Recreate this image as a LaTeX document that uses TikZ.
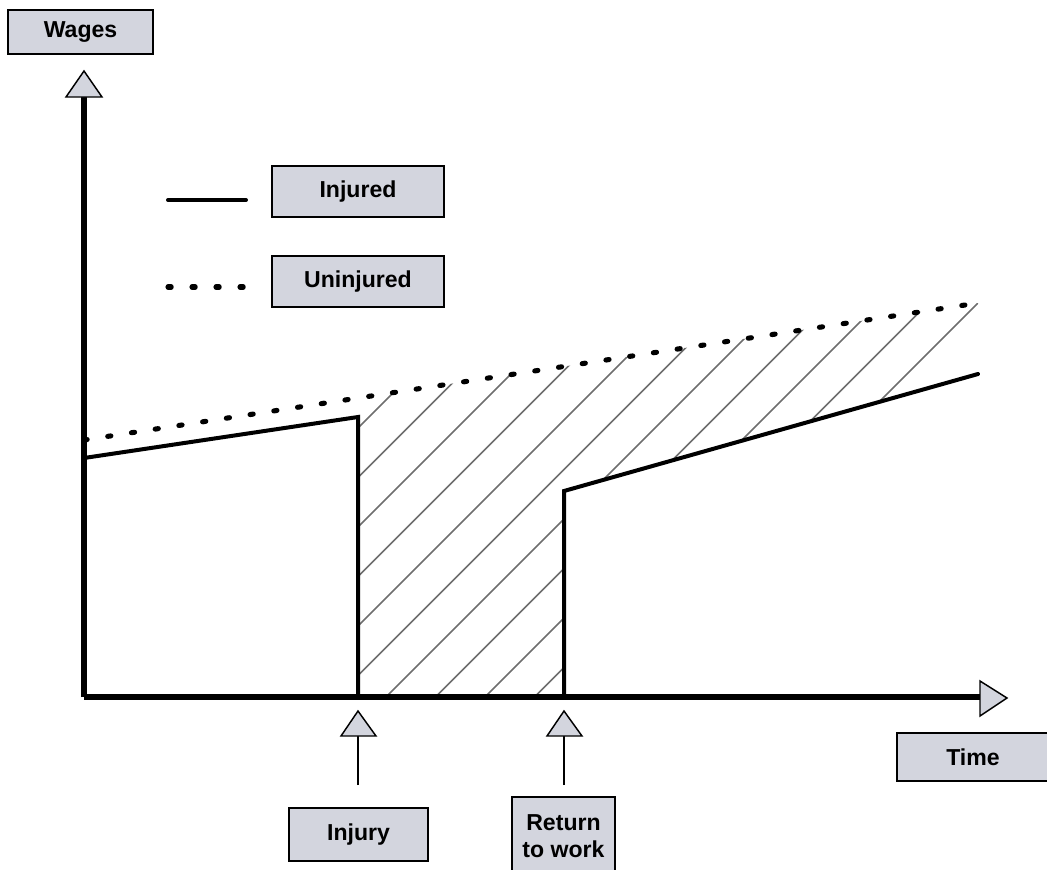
\documentclass[tikz,border=0pt]{standalone}
\usepackage{fontspec}
\setmainfont{Liberation Sans}
\definecolor{boxgray}{RGB}{211,213,222}
\definecolor{hatchgray}{RGB}{110,110,110}

\begin{document}
\begin{tikzpicture}[x=0.75pt,y=0.75pt,yscale=-1,xscale=1,
    labelbox/.style={draw=black, line width=1.5pt, fill=boxgray, inner sep=0pt, align=center,
        font=\fontsize{17.3}{20}\selectfont\bfseries},
    wageline/.style={line width=3pt, line cap=round, line join=miter},
    dotline/.style={line width=3.8pt, line cap=round, dash pattern=on 2.4pt off 15.6pt},
    axisline/.style={line width=4pt},
    hatchline/.style={draw=hatchgray, line width=1.1pt},
    tip/.style={draw=black, fill=boxgray, line width=1.1pt, line join=miter},
    pointer/.style={line width=1.1pt}]
    \useasboundingbox (0,0) rectangle (1047,869);

    %Points [axes]
    \coordinate (O) at (84,697);
    \coordinate (ybase) at (84,97);
    \coordinate (ytip) at (84,71);
    \coordinate (xbase) at (980,697);
    \coordinate (xtip) at (1007,698);
    %Points [injured wages]
    \coordinate (i0) at (84,458);
    \coordinate (i1) at (358,417);
    \coordinate (i2) at (358,697);
    \coordinate (i3) at (564,697);
    \coordinate (i4) at (564,491);
    \coordinate (i5) at (978,374);
    %Points [uninjured wages]
    \coordinate (u0) at (84,440);
    \coordinate (u1) at (358,398);
    \coordinate (u2) at (978,303);

    %Hatched gap between the two wage paths
    \begin{scope}
        \clip (u1) -- (u2) -- (i5) -- (i4) -- (i3) -- (i2) -- cycle;
        \foreach \c in {0,...,10}
            \draw[hatchline] ({786+49.5*\c-720},720) -- ({786+49.5*\c-280},280);
    \end{scope}

    %Straight Lines [uninjured]
    \draw[dotline] (u0) -- (u2);
    %Straight Lines [injured]
    \draw[wageline] (i0) -- (i1) -- (i2);
    \draw[wageline] (i3) -- (i4) -- (i5);

    %Straight Lines [axes]
    \draw[axisline] (O) -- (ybase);
    \draw[axisline] (O) -- (xbase);
    %Shape: Triangle
    \draw[tip] (ytip) -- (102,97) -- (66,97) -- cycle;
    %Shape: Triangle
    \draw[tip] (xtip) -- (980,716) -- (980,681) -- cycle;

    %Legend lines
    \coordinate (lgA) at (168,200);
    \coordinate (lgB) at (246,200);
    \coordinate (lgC) at (168,287);
    \coordinate (lgD) at (246,287);
    \draw[wageline] (lgA) -- (lgB);
    \draw[dotline] (lgC) -- (lgD);

    % Text Node
    \node[labelbox, minimum width=108.75pt, minimum height=33pt] (wages) at (80.5,32) {Wages};
    % Text Node
    \node[labelbox, minimum width=129pt, minimum height=38.25pt] (injured) at (358,191.5) {Injured};
    % Text Node
    \node[labelbox, minimum width=129pt, minimum height=38.25pt] (uninjured) at (358,281.5) {Uninjured};
    % Text Node
    \node[labelbox, minimum width=114pt, minimum height=36pt] (time) at (973,757) {Time};
    % Text Node
    \node[labelbox, minimum width=104.25pt, minimum height=39.75pt] (injury) at (358.5,834.5) {Injury};
    % Text Node
    \node[labelbox, minimum width=77.25pt, minimum height=58.5pt] (return) at (563.5,836) {Return\\to work};

    %Pointers [injury, return to work]
    \coordinate (injtip) at (358,711);
    \coordinate (injfoot) at (358,785);
    \coordinate (rettip) at (564,711);
    \coordinate (retfoot) at (564,785);
    \draw[pointer] (injfoot) -- (358,736);
    \draw[tip] (injtip) -- (376,736) -- (341,736) -- cycle;
    \draw[pointer] (retfoot) -- (564,736);
    \draw[tip] (rettip) -- (582,736) -- (547,736) -- cycle;
\end{tikzpicture}
\end{document}
